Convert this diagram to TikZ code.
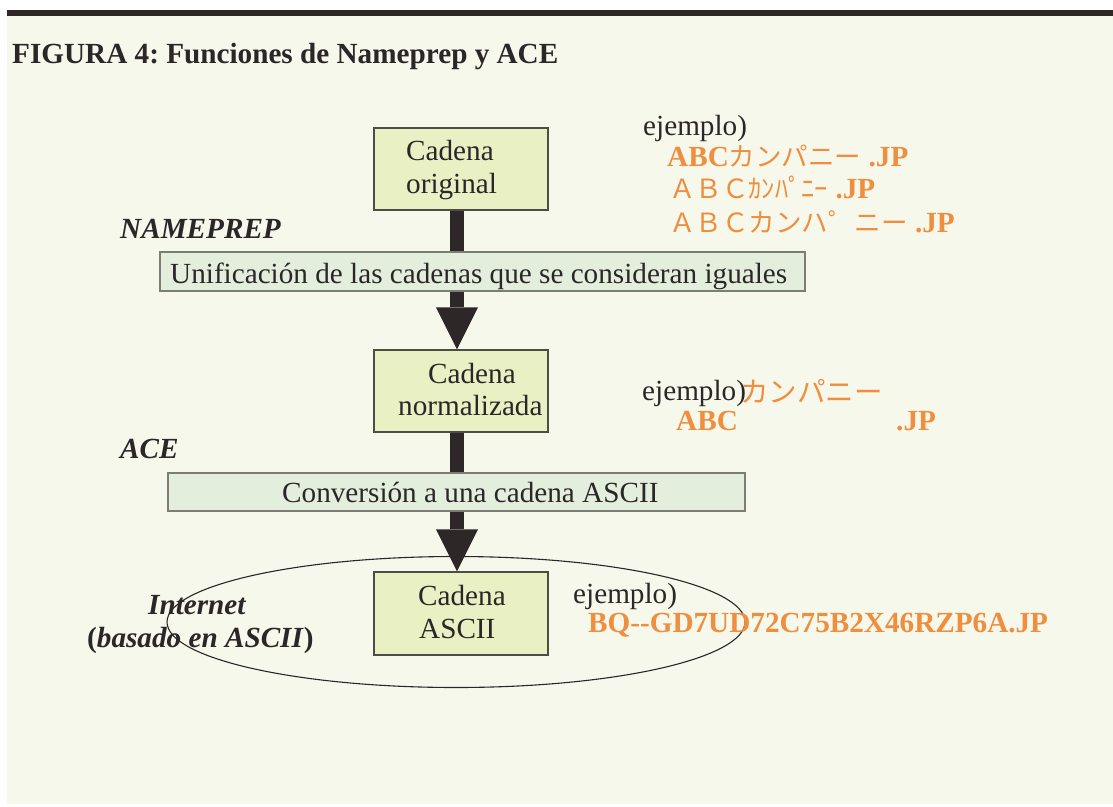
\documentclass[tikz,border=0pt]{standalone}
\usepackage{fontspec}
\setmainfont{Liberation Serif}
\newfontfamily\jpfont{Noto Sans CJK JP}
\usetikzlibrary{arrows.meta,shapes.geometric}
\frenchspacing

\definecolor{cream}{HTML}{F6F8EB}
\definecolor{topbar}{HTML}{2E2627}
\definecolor{ink}{HTML}{2B2627}
\definecolor{boxfill}{HTML}{E8F0C4}
\definecolor{boxline}{HTML}{4F4B45}
\definecolor{barfill}{HTML}{E3EEDD}
\definecolor{barline}{HTML}{7D7C75}
\definecolor{accent}{HTML}{EE8E3E}
\definecolor{flowcol}{HTML}{2E2728}

\newcommand{\jp}[2][26.5]{{\jpfont\fontsize{#1}{30}\selectfont #2}}

\begin{document}
\begin{tikzpicture}[x=1pt,y=-1pt,
  txt/.style={inner sep=0pt, anchor=base west, text=ink, font=\fontsize{29.2}{34}\selectfont},
  ex/.style={txt, text=accent},
  stagebox/.style={draw=boxline, line width=1.2pt, fill=boxfill, minimum width=174pt, minimum height=82pt, inner sep=0pt},
  procbar/.style={draw=barline, line width=1.2pt, fill=barfill, inner sep=0pt},
  flow/.style={draw=flowcol, line width=14pt, -{Triangle[width=42pt, length=42pt, line width=0pt]}}
]
\useasboundingbox (0,0) rectangle (1113,806);

% page background and top rule
\fill[white] (0,0) rectangle (1113,806);
\fill[cream] (7,16) rectangle (1113,804);
\fill[topbar] (7,10) rectangle (1113,16);

% title
\node[txt, font=\fontsize{29.2}{34}\selectfont\bfseries] (title) at (12,63) {FIGURA 4: Funciones de Nameprep y ACE};

% the ASCII-based Internet
\node[draw=ink, line width=1.1pt, ellipse, minimum width=578pt, minimum height=131pt, inner sep=0pt] (net) at (456,622) {};

% stage boxes and processing bars
\coordinate (ax) at (457,0);
\node[stagebox] (b1) at (461,169) {};
\node[stagebox] (b2) at (461,391) {};
\node[stagebox, minimum height=83pt] (b3) at (461,613.5) {};

\draw[flow] (b1.south -| ax) -- (b2.north -| ax);
\draw[flow] (b2.south -| ax) -- (b3.north -| ax);

\node[procbar, minimum width=645pt, minimum height=39pt] (p1) at (482.5,271.5) {};
\node[procbar, minimum width=577pt, minimum height=38pt] (p2) at (456.5,492) {};

% box and bar texts
\node[txt] (b1a) at (406,160) {Cadena};
\node[txt] (b1b) at (406,193) {original};
\node[txt] (b2a) at (428,383) {Cadena};
\node[txt] (b2b) at (398,415) {normalizada};
\node[txt] (b3a) at (418,605) {Cadena};
\node[txt] (b3b) at (419,638) {ASCII};
\node[txt] (p1t) at (170,283) {Unificación de las cadenas que se consideran iguales};
\node[txt] (p2t) at (282,502) {Conversión a una cadena ASCII};

% side labels
\node[txt, font=\fontsize{29.2}{34}\selectfont\bfseries\itshape] (lnp) at (120,238) {NAMEPREP};
\node[txt, font=\fontsize{29.2}{34}\selectfont\bfseries\itshape] (lace) at (120,458) {ACE};
\node[txt, font=\fontsize{29.2}{34}\selectfont\bfseries\itshape] (lint) at (148,614) {Internet};
\node[txt, font=\fontsize{29.2}{34}\selectfont\bfseries] (lasc) at (87,647) {(\textit{basado en ASCII})};

% examples
\node[txt] (e1) at (643,135) {ejemplo)};
\node[ex] (e1a) at (667,166) {\textbf{ABC}\jp{カンパニー} \textbf{.JP}};
\node[ex] (e1b) at (669,198) {\jp{ＡＢＣｶﾝﾊﾟﾆｰ} \textbf{.JP}};
\node[ex] (e1c) at (669,232) {\jp{ＡＢＣカンハ゜ニー} \textbf{.JP}};

\node[txt] (e2) at (642,400) {ejemplo)};
\node[ex] (e2k) at (740,402) {\jp[28.5]{カンパニー}};
\node[ex, font=\fontsize{29.2}{34}\selectfont\bfseries] (e2a) at (676,430) {ABC};
\node[ex, font=\fontsize{29.2}{34}\selectfont\bfseries] (e2b) at (896,430) {.JP};

\node[txt] (e3) at (573,603) {ejemplo)};
\node[ex, font=\fontsize{29.2}{34}\selectfont\bfseries] (e3a) at (588,632) {BQ-{}-GD7UD72C75B2X46RZP6A.JP};
\end{tikzpicture}
\end{document}
